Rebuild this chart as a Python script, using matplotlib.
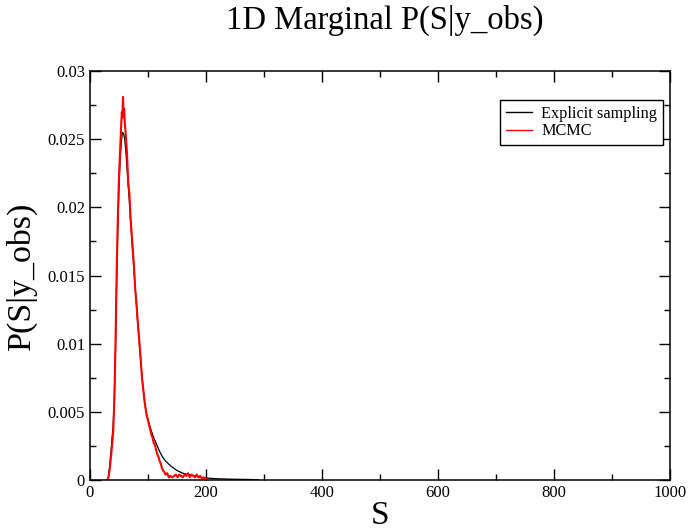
import numpy as np
import matplotlib
matplotlib.use("Agg")
import matplotlib.pyplot as plt
from matplotlib.ticker import MultipleLocator, FuncFormatter

# Explicit sampling (black)
s_exp = [28, 30, 32, 34, 36, 38, 40, 42, 44, 46, 48, 50, 52, 54, 56, 58, 60, 62, 64, 66,
         68, 70, 72, 74, 76, 78, 80, 84, 88, 92, 96, 100, 105, 110, 115, 120, 125, 130,
         140, 150, 160, 170, 180, 190, 200, 215, 230, 245, 260, 275, 290]
p_exp = [0.0, 0.0, 0.0003, 0.0010, 0.0020, 0.0030, 0.0040, 0.0060, 0.0095, 0.0145, 0.0185,
         0.0215, 0.0235, 0.0248, 0.0255, 0.0254, 0.0250, 0.0240, 0.0228, 0.0216, 0.0204,
         0.0190, 0.0177, 0.0165, 0.0153, 0.0141, 0.0129, 0.0106, 0.0085, 0.0066, 0.0052,
         0.0044, 0.0037, 0.0031, 0.0026, 0.0021, 0.0017, 0.0014, 0.0010, 0.0007, 0.0005,
         0.0004, 0.0003, 0.0002, 0.00015, 0.0001, 0.00008, 0.00006, 0.00005, 0.00004, 0.00002]

# MCMC (red)
s_mcmc = [30, 32, 34, 36, 38, 40, 42, 44, 46, 48, 50, 52, 54, 55, 56, 57, 58, 59, 60, 62,
          64, 66, 68, 70, 72, 74, 76, 78, 80, 82, 84, 86, 88, 90, 92, 94, 96, 98, 100, 102,
          104, 106, 108, 110, 112, 114, 116, 118, 120, 122, 124, 126, 128, 130, 133, 136,
          139, 142, 145, 148, 151, 154, 157, 160, 163, 166, 169, 172, 175, 178, 181, 184,
          187, 190, 193, 196, 200]
p_mcmc = [0.0, 0.0002, 0.0008, 0.0016, 0.0025, 0.0035, 0.0058, 0.0100, 0.0152, 0.0192,
          0.0222, 0.0242, 0.0262, 0.0270, 0.0266, 0.0281, 0.0268, 0.0272, 0.0262, 0.0252,
          0.0238, 0.0218, 0.0210, 0.0192, 0.0180, 0.0168, 0.0156, 0.0140, 0.0131, 0.0118,
          0.0108, 0.0097, 0.0085, 0.0073, 0.0066, 0.0058, 0.0052, 0.0047, 0.0044, 0.0040,
          0.0037, 0.0033, 0.0031, 0.0027, 0.0026, 0.0022, 0.0019, 0.0017, 0.0014, 0.0012,
          0.0009, 0.0007, 0.0006, 0.0004, 0.0005, 0.0002, 0.0003, 0.0002, 0.0003, 0.0004,
          0.0002, 0.0004, 0.0003, 0.0002, 0.0004, 0.0003, 0.0005, 0.0002, 0.0004, 0.0003,
          0.0002, 0.0004, 0.0002, 0.0003, 0.0001, 0.0002, 0.0001]

plt.rcParams['font.family'] = ['Liberation Serif', 'DejaVu Serif']

fig = plt.figure(figsize=(6.91, 5.32), dpi=100)
ax = fig.add_axes([0.1302, 0.0977, 0.8394, 0.7688])

ax.plot(s_exp, p_exp, color='black', lw=0.9, label='Explicit sampling')
ax.plot(s_mcmc, p_mcmc, color='red', lw=1.5, label='MCMC')

ax.set_xlim(0, 1000)
ax.set_ylim(0, 0.03)
ax.xaxis.set_major_locator(MultipleLocator(200))
ax.xaxis.set_minor_locator(MultipleLocator(100))
ax.yaxis.set_major_locator(MultipleLocator(0.005))
ax.yaxis.set_minor_locator(MultipleLocator(0.0025))
ax.yaxis.set_major_formatter(FuncFormatter(lambda v, p: ('%g' % round(v, 4))))
ax.tick_params(which='both', direction='in', top=True, right=True, labelsize=12, width=1)
ax.tick_params(which='major', length=8)
ax.tick_params(which='minor', length=4.5)
for sp in ax.spines.values():
    sp.set_linewidth(1.1)

ax.set_xlabel('S', fontsize=24, labelpad=0)
ax.set_ylabel('P(S|y_obs)', fontsize=24.5, labelpad=8)
fig.text(0.557, 0.962, '1D Marginal P(S|y_obs)', fontsize=23.5, ha='center', va='center')

leg = ax.legend(loc='upper right', bbox_to_anchor=(0.988, 0.929), borderaxespad=0,
                fontsize=11.7, fancybox=False, framealpha=1, edgecolor='black',
                handlelength=1.6, handletextpad=0.6, labelspacing=0.1, borderpad=0.35)
leg.get_frame().set_linewidth(1.0)
for h in leg.get_lines():
    h.set_linewidth(1.0)

fig.savefig('out.png', dpi=100)
